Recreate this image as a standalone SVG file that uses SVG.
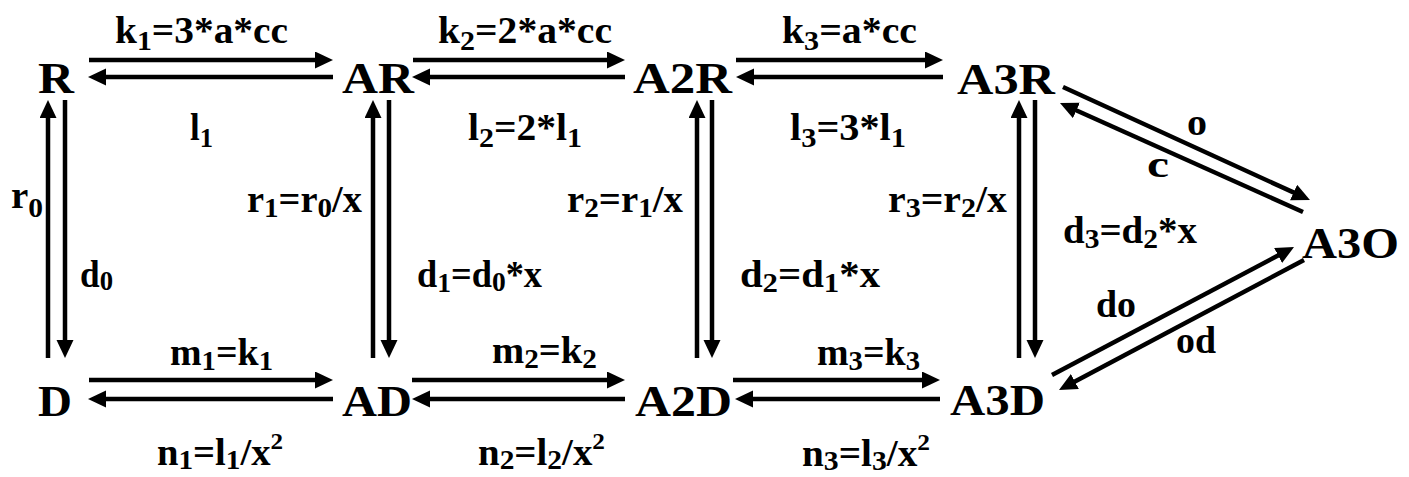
<svg xmlns="http://www.w3.org/2000/svg" width="1409" height="477" viewBox="0 0 1409 477" font-family="'Liberation Serif', 'Times New Roman', serif" font-weight="bold">
<style>
text{font-family:'Liberation Serif','Times New Roman',serif;font-weight:700;fill:#000}
.node{font-size:44px}
.lbl{font-size:37px}
.sub{font-size:28px}
.sup{font-size:24px}
.c line{stroke:#000;stroke-width:4.5;fill:none;marker-end:url(#ah)}
</style>
<defs>
<marker id="ah" markerUnits="userSpaceOnUse" markerWidth="20" markerHeight="18" refX="1" refY="8.5" orient="auto">
<path d="M0,0 L18,8.5 L0,17 z" fill="#000"/>
</marker>
</defs>
<rect width="1409" height="477" fill="#fff"/>
<g id="connectors" class="c">
<line x1="89" y1="60" x2="316" y2="60"/>
<line x1="333" y1="77" x2="105" y2="77"/>
<line x1="413" y1="60" x2="608" y2="60"/>
<line x1="625" y1="77" x2="429" y2="77"/>
<line x1="736" y1="60" x2="926" y2="60"/>
<line x1="943" y1="77" x2="753" y2="77"/>
<line x1="89" y1="380" x2="316" y2="380"/>
<line x1="333" y1="399" x2="105" y2="399"/>
<line x1="412" y1="380" x2="608" y2="380"/>
<line x1="625" y1="399" x2="429" y2="399"/>
<line x1="733" y1="380" x2="923" y2="380"/>
<line x1="940" y1="399" x2="752" y2="399"/>
<line x1="48" y1="358" x2="48" y2="117"/>
<line x1="65" y1="100" x2="65" y2="341"/>
<line x1="373" y1="358" x2="373" y2="117"/>
<line x1="389" y1="100" x2="389" y2="341"/>
<line x1="697" y1="358" x2="697" y2="117"/>
<line x1="712" y1="100" x2="712" y2="341"/>
<line x1="1019" y1="358" x2="1019" y2="117"/>
<line x1="1035" y1="100" x2="1035" y2="341"/>
<line x1="1063" y1="87" x2="1294.5" y2="192.9"/>
<line x1="1303" y1="212" x2="1075.5" y2="110"/>
<line x1="1052" y1="375" x2="1279" y2="255"/>
<line x1="1304" y1="260" x2="1074" y2="382"/>
</g>
<g id="edge-labels" class="lbl">
<text class="lbl" x="115" y="43" textLength="173" lengthAdjust="spacingAndGlyphs">k<tspan class="sub" dy="7">1</tspan><tspan dy="-7">=3*a*cc</tspan></text>
<text class="lbl" x="190" y="140" textLength="23" lengthAdjust="spacingAndGlyphs">l<tspan class="sub" dy="7">1</tspan></text>
<text class="lbl" x="438" y="43" textLength="174" lengthAdjust="spacingAndGlyphs">k<tspan class="sub" dy="7">2</tspan><tspan dy="-7">=2*a*cc</tspan></text>
<text class="lbl" x="468" y="140" textLength="114" lengthAdjust="spacingAndGlyphs">l<tspan class="sub" dy="7">2</tspan><tspan dy="-7">=2*l</tspan><tspan class="sub" dy="7">1</tspan></text>
<text class="lbl" x="782" y="43" textLength="135" lengthAdjust="spacingAndGlyphs">k<tspan class="sub" dy="7">3</tspan><tspan dy="-7">=a*cc</tspan></text>
<text class="lbl" x="790" y="140" textLength="116" lengthAdjust="spacingAndGlyphs">l<tspan class="sub" dy="7">3</tspan><tspan dy="-7">=3*l</tspan><tspan class="sub" dy="7">1</tspan></text>
<text class="lbl" x="11" y="208" textLength="32" lengthAdjust="spacingAndGlyphs">r<tspan class="sub" dy="9">0</tspan></text>
<text class="lbl" x="80" y="287" textLength="33" lengthAdjust="spacingAndGlyphs">d<tspan class="sub" dy="3">0</tspan></text>
<text class="lbl" x="247" y="212" textLength="115" lengthAdjust="spacingAndGlyphs">r<tspan class="sub" dy="5">1</tspan><tspan dy="-5">=r</tspan><tspan class="sub" dy="5">0</tspan><tspan dy="-5">/x</tspan></text>
<text class="lbl" x="417" y="287" textLength="125" lengthAdjust="spacingAndGlyphs">d<tspan class="sub" dy="5">1</tspan><tspan dy="-5">=d</tspan><tspan class="sub" dy="4">0</tspan><tspan dy="-4">*x</tspan></text>
<text class="lbl" x="567" y="212" textLength="116" lengthAdjust="spacingAndGlyphs">r<tspan class="sub" dy="5">2</tspan><tspan dy="-5">=r</tspan><tspan class="sub" dy="5">1</tspan><tspan dy="-5">/x</tspan></text>
<text class="lbl" x="740" y="287" textLength="140" lengthAdjust="spacingAndGlyphs">d<tspan class="sub" dy="5">2</tspan><tspan dy="-5">=d</tspan><tspan class="sub" dy="5">1</tspan><tspan dy="-5">*x</tspan></text>
<text class="lbl" x="888" y="212" textLength="119" lengthAdjust="spacingAndGlyphs">r<tspan class="sub" dy="5">3</tspan><tspan dy="-5">=r</tspan><tspan class="sub" dy="5">2</tspan><tspan dy="-5">/x</tspan></text>
<text class="lbl" x="1063" y="243" textLength="134" lengthAdjust="spacingAndGlyphs">d<tspan class="sub" dy="5">3</tspan><tspan dy="-5">=d</tspan><tspan class="sub" dy="5">2</tspan><tspan dy="-5">*x</tspan></text>
<text class="lbl" x="1187" y="135" textLength="20" lengthAdjust="spacingAndGlyphs">o</text>
<text class="lbl" x="1147" y="177" textLength="22" lengthAdjust="spacingAndGlyphs">c</text>
<text class="lbl" x="1096" y="317" textLength="40" lengthAdjust="spacingAndGlyphs">do</text>
<text class="lbl" x="1176" y="353" textLength="40" lengthAdjust="spacingAndGlyphs">od</text>
<text class="lbl" x="170" y="365" textLength="103" lengthAdjust="spacingAndGlyphs">m<tspan class="sub" dy="5">1</tspan><tspan dy="-5">=k</tspan><tspan class="sub" dy="5">1</tspan></text>
<text class="lbl" x="492" y="363" textLength="105" lengthAdjust="spacingAndGlyphs">m<tspan class="sub" dy="5">2</tspan><tspan dy="-5">=k</tspan><tspan class="sub" dy="5">2</tspan></text>
<text class="lbl" x="817" y="365" textLength="103" lengthAdjust="spacingAndGlyphs">m<tspan class="sub" dy="5">3</tspan><tspan dy="-5">=k</tspan><tspan class="sub" dy="5">3</tspan></text>
<text class="lbl" x="157" y="465" textLength="126" lengthAdjust="spacingAndGlyphs">n<tspan class="sub" dy="4">1</tspan><tspan dy="-4">=l</tspan><tspan class="sub" dy="4">1</tspan><tspan dy="-4">/x</tspan><tspan class="sup" dy="-16">2</tspan></text>
<text class="lbl" x="478" y="465" textLength="127" lengthAdjust="spacingAndGlyphs">n<tspan class="sub" dy="4">2</tspan><tspan dy="-4">=l</tspan><tspan class="sub" dy="4">2</tspan><tspan dy="-4">/x</tspan><tspan class="sup" dy="-16">2</tspan></text>
<text class="lbl" x="802" y="466" textLength="128" lengthAdjust="spacingAndGlyphs">n<tspan class="sub" dy="4">3</tspan><tspan dy="-4">=l</tspan><tspan class="sub" dy="4">3</tspan><tspan dy="-4">/x</tspan><tspan class="sup" dy="-16">2</tspan></text>
</g>
<g id="R"><text class="node" x="38" y="93" textLength="36" lengthAdjust="spacingAndGlyphs">R</text></g>
<g id="AR"><text class="node" x="342" y="93" textLength="72" lengthAdjust="spacingAndGlyphs">AR</text></g>
<g id="A2R"><text class="node" x="633" y="93" textLength="99" lengthAdjust="spacingAndGlyphs">A2R</text></g>
<g id="A3R"><text class="node" x="957" y="94" textLength="98" lengthAdjust="spacingAndGlyphs">A3R</text></g>
<g id="A3O"><text class="node" x="1302" y="258" textLength="97" lengthAdjust="spacingAndGlyphs">A3O</text></g>
<g id="D"><text class="node" x="38" y="416" textLength="34" lengthAdjust="spacingAndGlyphs">D</text></g>
<g id="AD"><text class="node" x="342" y="416" textLength="70" lengthAdjust="spacingAndGlyphs">AD</text></g>
<g id="A2D"><text class="node" x="635" y="416" textLength="97" lengthAdjust="spacingAndGlyphs">A2D</text></g>
<g id="A3D"><text class="node" x="950" y="415" textLength="95" lengthAdjust="spacingAndGlyphs">A3D</text></g>
</svg>
